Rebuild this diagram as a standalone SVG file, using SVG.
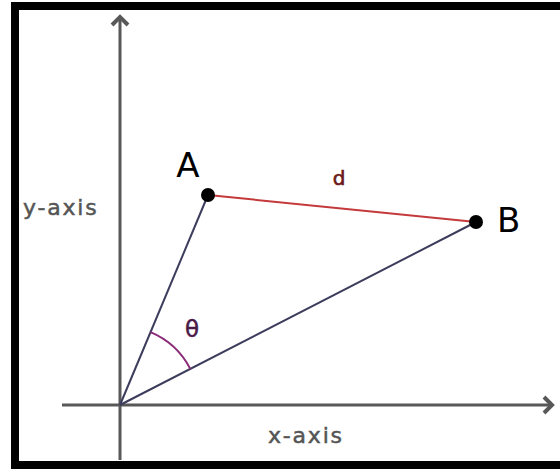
<svg xmlns="http://www.w3.org/2000/svg" width="560" height="472" viewBox="0 0 560 472">
<defs>
<style>
.axis{stroke:#585858;stroke-width:3;fill:none}
.seg{stroke:#3c3c5c;stroke-width:2;fill:none}
.dist{stroke:#c43a3a;stroke-width:2;fill:none}
.lbl{font-family:"DejaVu Sans",sans-serif;fill:#000}
.axlbl{font-family:"DejaVu Sans",sans-serif;font-size:22px;fill:#555;stroke:#555;stroke-width:0.5;letter-spacing:1.8px}
</style>
<marker id="arr" markerUnits="userSpaceOnUse" markerWidth="20" markerHeight="24" viewBox="-12 -12 16 24" refX="0" refY="0" orient="auto">
<path d="M-8,-8 L0,0 L-8,8" fill="none" stroke="#585858" stroke-width="4" stroke-linejoin="miter"/>
</marker>
</defs>
<rect x="0" y="0" width="560" height="472" fill="#fff"/>
<rect id="frame" x="15" y="6" width="600" height="459" fill="#fff" stroke="#000" stroke-width="8"/>
<g id="connectors">
<line class="axis" x1="120" y1="460" x2="120" y2="17" marker-end="url(#arr)"/>
<line class="axis" x1="62" y1="405" x2="552" y2="405" marker-end="url(#arr)"/>
<line class="seg" x1="120" y1="405" x2="208" y2="195"/>
<line class="seg" x1="120" y1="405" x2="476" y2="222"/>
<line class="dist" x1="208" y1="195" x2="476" y2="222"/>
<path d="M150.5,332.1 A79,79 0 0 1 190.3,368.9" fill="none" stroke="#8a2a78" stroke-width="2"/>
</g>
<g id="nodeA">
<circle cx="208" cy="195" r="7" fill="#000"/>
<text class="lbl" x="188" y="177" font-size="34" text-anchor="middle">A</text>
</g>
<g id="nodeB">
<circle cx="476" cy="222" r="7" fill="#000"/>
<text class="lbl" x="497" y="232" font-size="34">B</text>
</g>
<g id="labels">
<text x="339" y="185" font-family="DejaVu Sans, sans-serif" font-size="20" fill="#6a1a1a" stroke="#6a1a1a" stroke-width="0.6" text-anchor="middle">d</text>
<text x="192" y="337" font-family="DejaVu Sans, sans-serif" font-size="23" fill="#4a1a48" stroke="#4a1a48" stroke-width="0.5" text-anchor="middle">θ</text>
<text class="axlbl" x="23" y="215">y-axis</text>
<text class="axlbl" x="268" y="443">x-axis</text>
</g>
</svg>
